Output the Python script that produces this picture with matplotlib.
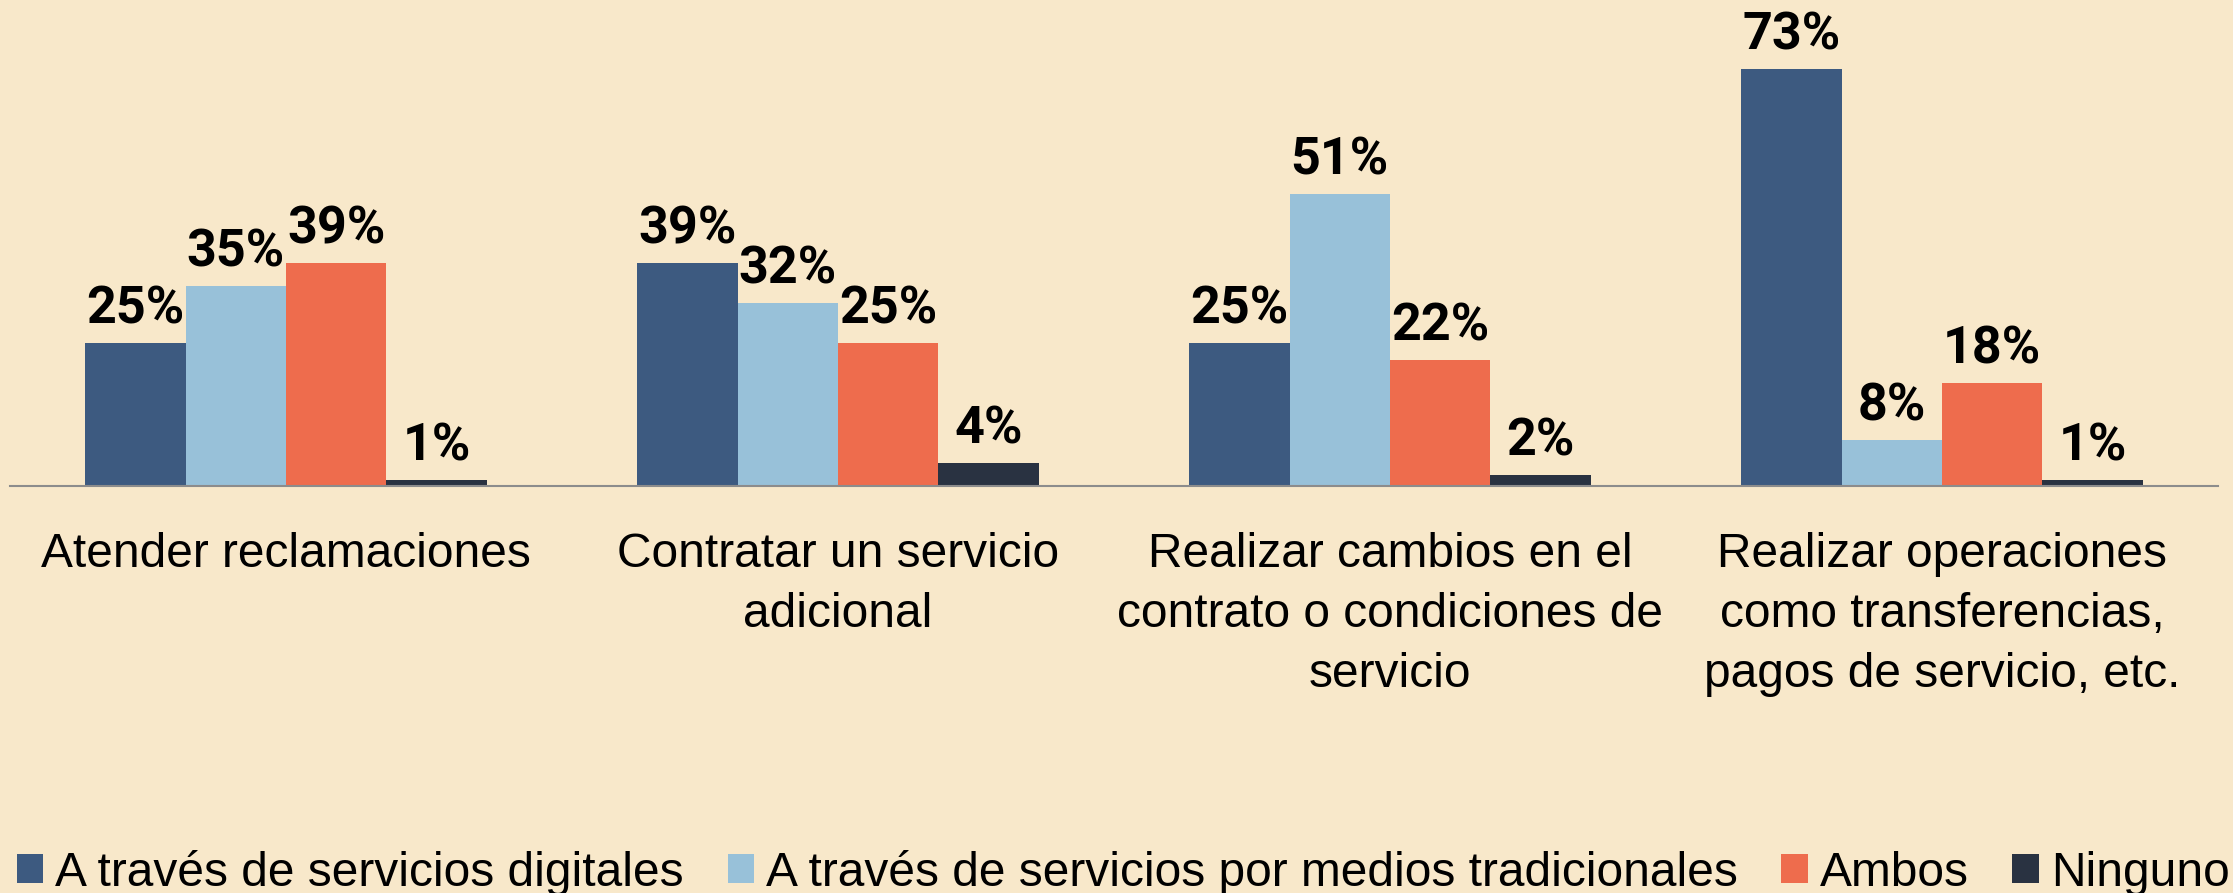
import matplotlib
matplotlib.use("Agg")
import matplotlib.pyplot as plt
import numpy as np
from matplotlib.patches import Patch

categories = [
    "Atender reclamaciones",
    "Contratar un servicio\nadicional",
    "Realizar cambios en el\ncontrato o condiciones de\nservicio",
    "Realizar operaciones\ncomo transferencias,\npagos de servicio, etc.",
]
series_names = [
    "A través de servicios digitales",
    "A través de servicios por medios tradicionales",
    "Ambos",
    "Ninguno",
]
digitales = [25, 39, 25, 73]
tradicionales = [35, 32, 51, 8]
ambos = [39, 25, 22, 18]
ninguno = [1, 4, 2, 1]
series_values = [digitales, tradicionales, ambos, ninguno]
colors = ["#3D5A80", "#98C1D9", "#EE6C4D", "#293241"]
bg = "#F8E8CA"

W, H = 2233, 893
fig = plt.figure(figsize=(W / 100, H / 100), dpi=100, facecolor=bg)
ax = fig.add_axes([10 / W, 1 - 486 / H, 2208 / W, 486 / H])
ax.set_facecolor(bg)

x = np.arange(len(categories))
bw = 0.182
offsets = (np.arange(4) - 1.5) * bw
for vals, off, c in zip(series_values, offsets, colors):
    bars = ax.bar(x + off, vals, width=bw, color=c, zorder=2)
    for b, v in zip(bars, vals):
        ax.annotate(f"{v}%", (b.get_x() + b.get_width() / 2, v),
                    xytext=(0, 14), textcoords="offset points",
                    ha="center", va="baseline", fontsize=37.5,
                    fontweight="bold", family=["Roboto", "DejaVu Sans"],
                    color="black")

ax.set_xlim(-0.5, 3.5)
ax.set_ylim(0, 85)
for s in ["top", "left", "right"]:
    ax.spines[s].set_visible(False)
ax.spines["bottom"].set_color("#8C8C8C")
ax.spines["bottom"].set_linewidth(1.5)
ax.spines["bottom"].set_zorder(3)
ax.set_yticks([])
ax.set_xticks(x)
ax.set_xticklabels(categories, fontsize=34.5, family=["Liberation Sans", "DejaVu Sans"],
                   linespacing=1.43, color="black")
ax.tick_params(axis="x", length=0, pad=33)

handles = [Patch(facecolor=c, edgecolor="none") for c in colors]
leg = fig.legend(handles, series_names, loc="lower left",
                 bbox_to_anchor=(17 / W, -0.003), ncol=4, frameon=False,
                 prop={"family": ["Liberation Sans", "DejaVu Sans"], "size": 34.5},
                 handlelength=0.55, handleheight=0.55, handletextpad=0.25,
                 columnspacing=0.91, borderpad=0, borderaxespad=0)

fig.savefig("out.png", dpi=100, facecolor=bg)
